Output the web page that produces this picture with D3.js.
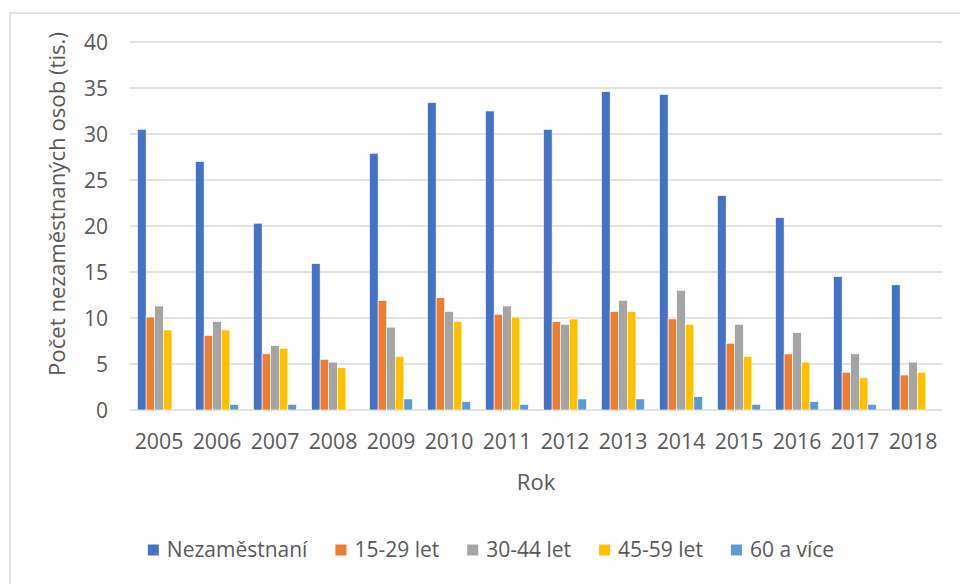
<!DOCTYPE html>
<html><head><meta charset="utf-8">
<script src="https://cdn.jsdelivr.net/npm/d3@7"></script>
<style>body{margin:0;background:#fff}svg{display:block}text{font-family:"Open Sans",sans-serif;fill:#595959}</style>
</head><body><svg id="c" width="960" height="584"></svg>
<script>
const years = ["2005","2006","2007","2008","2009","2010","2011","2012","2013","2014","2015","2016","2017","2018"];
const seriesNames = ["Nezaměstnaní","15-29 let","30-44 let","45-59 let","60 a více"];
const nezamestnani = [30.5,27.0,20.3,15.9,27.9,33.4,32.5,30.5,34.6,34.3,23.3,20.9,14.5,13.6];
const let15_29 = [10.1,8.1,6.1,5.5,11.9,12.2,10.4,9.6,10.7,9.9,7.25,6.1,4.1,3.8];
const let30_44 = [11.3,9.6,7.0,5.2,9.0,10.7,11.3,9.3,11.9,13.0,9.3,8.4,6.1,5.2];
const let45_59 = [8.7,8.7,6.7,4.6,5.8,9.6,10.1,9.9,10.7,9.3,5.8,5.2,3.5,4.1];
const let60 = [0,0.6,0.6,0,1.2,0.9,0.6,1.2,1.2,1.45,0.6,0.9,0.6,0];
const yTicks = [0,5,10,15,20,25,30,35,40];
const colors = ["#4472C4","#ED7D31","#A5A5A5","#FFC000","#5B9BD5"];
const allSeries = [nezamestnani,let15_29,let30_44,let45_59,let60];

const svg = d3.select("#c");
svg.append("path").attr("d","M10,584V13H960").attr("fill","none").attr("stroke","#d9d9d9").attr("stroke-width",1.5);

const x = d3.scaleBand().domain(years).range([130,942]).paddingInner(0.26).paddingOuter(0.13);
const xs = d3.scaleBand().domain(d3.range(5)).range([0,x.bandwidth()]);
const y = d3.scaleLinear().domain([0,40]).range([410,42]);

svg.append("g").selectAll("line").data(yTicks).join("line")
  .attr("x1",130).attr("x2",942).attr("y1",d=>y(d)).attr("y2",d=>y(d))
  .attr("stroke","#d9d9d9").attr("stroke-width",1.5);
svg.append("g").selectAll("text").data(yTicks).join("text")
  .attr("x",108).attr("y",d=>y(d)).attr("dy","0.36em").attr("text-anchor","end")
  .attr("font-size",21).text(d=>d);
const g = svg.append("g");
years.forEach((yr,i)=>{
  allSeries.forEach((s,j)=>{
    const v = s[i];
    if(v<=0) return;
    g.append("rect").attr("x",x(yr)+xs(j)).attr("width",xs.bandwidth())
     .attr("y",y(v)).attr("height",y(0)-y(v)).attr("fill",colors[j])
     .attr("stroke","#fff").attr("stroke-width",0.6);
  });
});
svg.append("g").selectAll("text").data(years).join("text")
  .attr("x",d=>x(d)+x.bandwidth()/2).attr("y",449).attr("text-anchor","middle")
  .attr("font-size",21.3).text(d=>d);
svg.append("text").attr("x",536).attr("y",490).attr("text-anchor","middle").attr("font-size",22).text("Rok");
svg.append("text").attr("transform","translate(65,204) rotate(-90)").attr("text-anchor","middle").attr("font-size",22.2).text("Počet nezaměstnaných osob (tis.)");
const lg = svg.append("g");
let cx = 0;
seriesNames.forEach((n,j)=>{
  const it = lg.append("g");
  it.append("rect").attr("x",0).attr("y",-5.5).attr("width",11).attr("height",11).attr("fill",colors[j]);
  const t = it.append("text").attr("x",19).attr("y",0).attr("dy","0.35em").attr("font-size",21).text(n);
  const w = 19 + t.node().getComputedTextLength();
  it.attr("transform",`translate(${cx},550)`);
  cx += w + 28;
});
const total = cx - 28;
lg.attr("transform",`translate(${491 - total/2},0)`);
</script></body></html>
